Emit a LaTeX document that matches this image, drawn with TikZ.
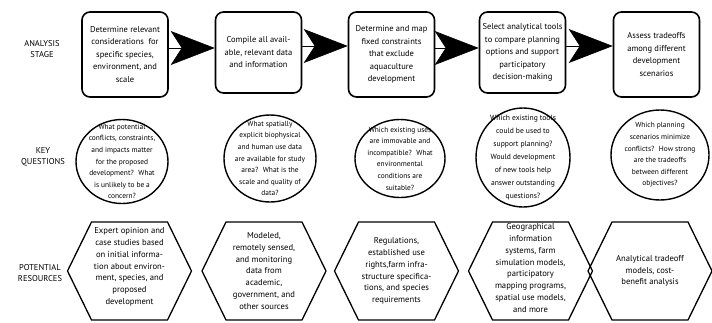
\documentclass[tikz,border=0pt]{standalone}
\usepackage{fontspec}
\setmainfont{PT Sans}
\usetikzlibrary{arrows.meta, shapes.geometric}

\begin{document}
\begin{tikzpicture}[x=1pt, y=-1pt,
  rowlabel/.style={align=center, font=\fontsize{8.5}{11.5}\selectfont},
  stagebox/.style={draw, line width=1.6pt, rounded corners=8pt, align=center,
    minimum width=86pt, minimum height=85pt, inner sep=0pt, font=\fontsize{8.5}{12.5}\selectfont},
  question/.style={draw, ellipse, line width=1.4pt, align=center, inner sep=-20pt,
    font=\fontsize{7.4}{11.6}\selectfont},
  resource/.style={align=center, inner sep=0pt, font=\fontsize{8.6}{11.8}\selectfont},
  flow/.style={line width=0.6pt, -{Stealth[length=44pt, width=34pt, inset=11pt]}}]
  \useasboundingbox (0,0) rectangle (712,322);

  % Row labels
  \node[rowlabel] (lstage) at (42,49) {ANALYSIS\\STAGE};
  \node[rowlabel] (lquest) at (43,157) {KEY\\QUESTIONS};
  \node[rowlabel] (lres) at (40,273) {POTENTIAL\\RESOURCES};

  % Analysis stages
  \node[stagebox] (s1) at (125,54.5) {Determine relevant\\considerations~ for\\specific species,\\environment, and\\scale};
  \node[stagebox, minimum height=81pt] (s2) at (258.5,52.5) {Compile all avail-\\able, relevant data\\and information};
  \node[stagebox] (s3) at (391.5,54.5) {Determine and map\\fixed constraints\\that exclude\\aquaculture\\development};
  \node[stagebox, minimum height=81pt] (s4) at (522.5,52.5) {Select analytical tools\\to compare planning\\options and support\\participatory\\decision-making};
  \node[stagebox] (s5) at (656.5,54.5) {Assess tradeoffs\\among different\\development\\scenarios};

  % Arrows between stages
  \foreach \a/\b in {s1/s2, s2/s3, s3/s4, s4/s5}
    \draw[flow] ([yshift=6.5pt]\a.east) -- ([yshift=6.5pt]\a.east -| \b.west);

  % Key questions
  \node[question, minimum width=92pt, minimum height=84pt] (q1) at (122,161.5) {What potential\\conflicts, constraints,\\and impacts matter\\for the proposed\\development?~ What\\is unlikely to be a\\concern?};
  \node[question, minimum width=92pt, minimum height=87pt] (q2) at (270,158.5) {What spatially\\explicit biophysical\\and human use data\\are available for study\\area?~ What is the\\scale and quality of\\data?};
  \node[question, minimum width=90pt, minimum height=78pt] (q3) at (400,158.5) {Which existing uses\\are immovable and\\incompatible?~ What\\environmental\\conditions are\\suitable?};
  \node[question, minimum width=94pt, minimum height=99pt, font=\fontsize{7.6}{13}\selectfont] (q4) at (523,157.5) {Which existing tools\\could be used to\\support planning?\\Would development\\of new tools help\\answer outstanding\\questions?};
  \node[question, minimum width=98pt, minimum height=90pt] (q5) at (660,155) {Which planning\\scenarios minimize\\conflicts?~ How strong\\are the tradeoffs\\between different\\objectives?};

  % Potential resources
  \node[resource] (r1) at (129.5,267) {Expert opinion and\\case studies based\\on initial informa-\\tion about environ-\\ment, species, and\\proposed\\development};
  \node[resource] (r2) at (264,271) {Modeled,\\remotely sensed,\\and monitoring\\data from\\academic,\\government, and\\other sources};
  \node[resource] (r3) at (396.5,271) {Regulations,\\established use\\rights,farm infra-\\structure specifica-\\tions, and species\\requirements};
  \node[resource] (r4) at (530.5,268) {Geographical\\information\\systems, farm\\simulation models,\\participatory\\mapping programs,\\spatial use models,\\and more};
  \node[resource] (r5) at (650,271) {Analytical tradeoff\\models, cost-\\benefit analysis};

  % Hexagon outlines
  \foreach \r in {r1, r2, r3, r4, r5}
    \draw[line width=1.3pt] ([xshift=-38pt]\r.center |- 0,222) -- ([xshift=38pt]\r.center |- 0,222)
      -- ([xshift=62pt]\r.center |- 0,271) -- ([xshift=38pt]\r.center |- 0,320)
      -- ([xshift=-38pt]\r.center |- 0,320) -- ([xshift=-62pt]\r.center |- 0,271) -- cycle;
\end{tikzpicture}
\end{document}
